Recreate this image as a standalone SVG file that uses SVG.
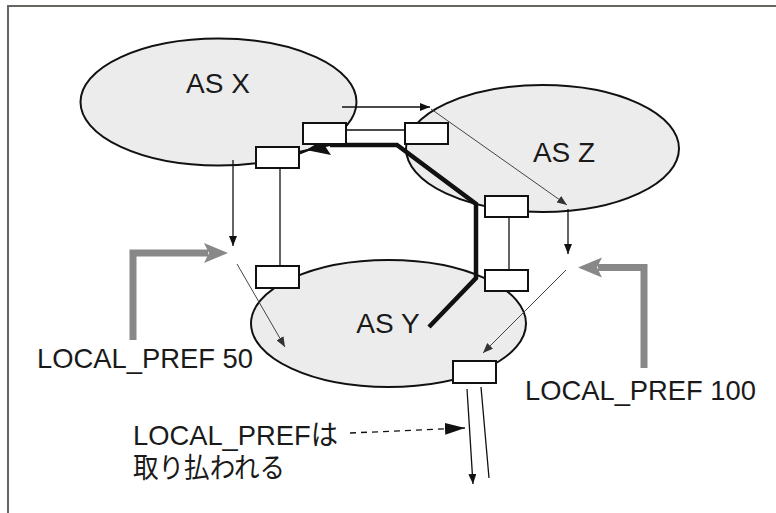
<svg xmlns="http://www.w3.org/2000/svg" width="776" height="513" viewBox="0 0 776 513">
<defs>
<marker id="ah" viewBox="0 0 10 8" refX="10" refY="4" markerWidth="10" markerHeight="8" markerUnits="userSpaceOnUse" orient="auto"><path d="M0,0 L10,4 L0,8 z" fill="#111"/></marker>
<marker id="ahg" viewBox="0 0 10 8" refX="10" refY="4" markerWidth="10" markerHeight="8" markerUnits="userSpaceOnUse" orient="auto"><path d="M0,0 L10,4 L0,8 z" fill="#333"/></marker>
<marker id="ahb" viewBox="0 0 20 12" refX="20" refY="6" markerWidth="20" markerHeight="12" markerUnits="userSpaceOnUse" orient="auto"><path d="M0,0 L20,6 L0,12 z" fill="#111"/></marker>
</defs>
<style>
.as{fill:#ececec;stroke:#111;stroke-width:2}
.box{fill:#fff;stroke:#111;stroke-width:2}
.lbl{font-family:"Liberation Sans",Arial,sans-serif;font-size:28px;fill:#1a1a1a}
.jp{font-family:"Liberation Sans","Noto Sans CJK JP",sans-serif;font-size:28px;fill:#1a1a1a}
.ln{stroke:#111;stroke-width:1.3;fill:none}
.lg{stroke:#444;stroke-width:1;fill:none}
.br{stroke:#888;stroke-width:7;fill:none;stroke-linejoin:miter}
</style>
<rect width="776" height="513" fill="#fff"/>
<path d="M8,513 V6 H776" fill="none" stroke="#666660" stroke-width="2"/>

<g id="asX"><ellipse class="as" cx="218.5" cy="102" rx="138" ry="63.5"/><text class="lbl" x="218" y="93" text-anchor="middle">AS X</text></g>
<g id="asZ"><ellipse class="as" cx="542.5" cy="148.5" rx="136.5" ry="63.5"/><text class="lbl" x="564" y="161.5" text-anchor="middle">AS Z</text></g>
<g id="asY"><ellipse class="as" cx="388.5" cy="323.5" rx="137.5" ry="63.5"/><text class="lbl" x="388" y="333" text-anchor="middle">AS Y</text></g>

<g id="connectors">
<path class="ln" d="M342,107 H430" marker-end="url(#ah)"/>
<path class="lg" d="M431,109 L567,205" marker-end="url(#ahg)"/>
<path class="ln" d="M233,160 V246" marker-end="url(#ah)"/>
<path class="ln" d="M568,209 V254" marker-end="url(#ah)"/>
<path class="lg" d="M237,264 L285,347" marker-end="url(#ahg)"/>
<path class="lg" d="M566,270 L483,353" marker-end="url(#ahg)"/>
<path class="ln" d="M467,389 L473,484" marker-end="url(#ah)"/>
<path class="ln" d="M481,387 L489,478"/>
<path class="ln" d="M350,433 L465,428" stroke-dasharray="6,5" marker-end="url(#ahb)"/>
<path class="ln" d="M346,130 H405"/>
<path class="ln" d="M280,168 V266"/>
<path class="ln" d="M509,217 V270"/>
<path d="M429,327 L476,278 L476,204 L397,145 L330,145" fill="none" stroke="#111" stroke-width="4.5" stroke-linejoin="miter"/>
<path d="M330,145 L299,152" fill="none" stroke="#111" stroke-width="2"/>
<polygon points="306,150 328,137 325,146 331,155" fill="#111"/>
<path class="br" d="M133,340 V253 H208"/>
<polygon points="228,253 204,243 209,253 204,263" fill="#888"/>
<path class="br" d="M644,368 V267.5 H598"/>
<polygon points="578,267.5 602,257.5 597,267.5 602,277.5" fill="#888"/>
</g>

<g id="boxA"><rect class="box" x="303" y="123" width="43" height="21"/></g>
<g id="boxB"><rect class="box" x="405" y="123" width="43" height="21"/></g>
<g id="boxC"><rect class="box" x="256" y="147" width="43" height="21"/></g>
<g id="boxD"><rect class="box" x="485" y="196" width="43" height="21"/></g>
<g id="boxE"><rect class="box" x="256" y="266" width="43" height="22"/></g>
<g id="boxF"><rect class="box" x="485" y="270" width="43" height="21"/></g>
<g id="boxG"><rect class="box" x="453" y="361" width="43" height="22"/></g>

<g id="labelLP50"><text class="lbl" x="37" y="368" textLength="216" lengthAdjust="spacingAndGlyphs">LOCAL_PREF 50</text></g>
<g id="labelLP100"><text class="lbl" x="525" y="400" textLength="231" lengthAdjust="spacingAndGlyphs">LOCAL_PREF 100</text></g>
<g id="labelRemoved"><text class="jp" x="133" y="445" textLength="205" lengthAdjust="spacingAndGlyphs">LOCAL_PREFは</text><text class="jp" x="133" y="478" textLength="152" lengthAdjust="spacingAndGlyphs">取り払われる</text></g>
</svg>
